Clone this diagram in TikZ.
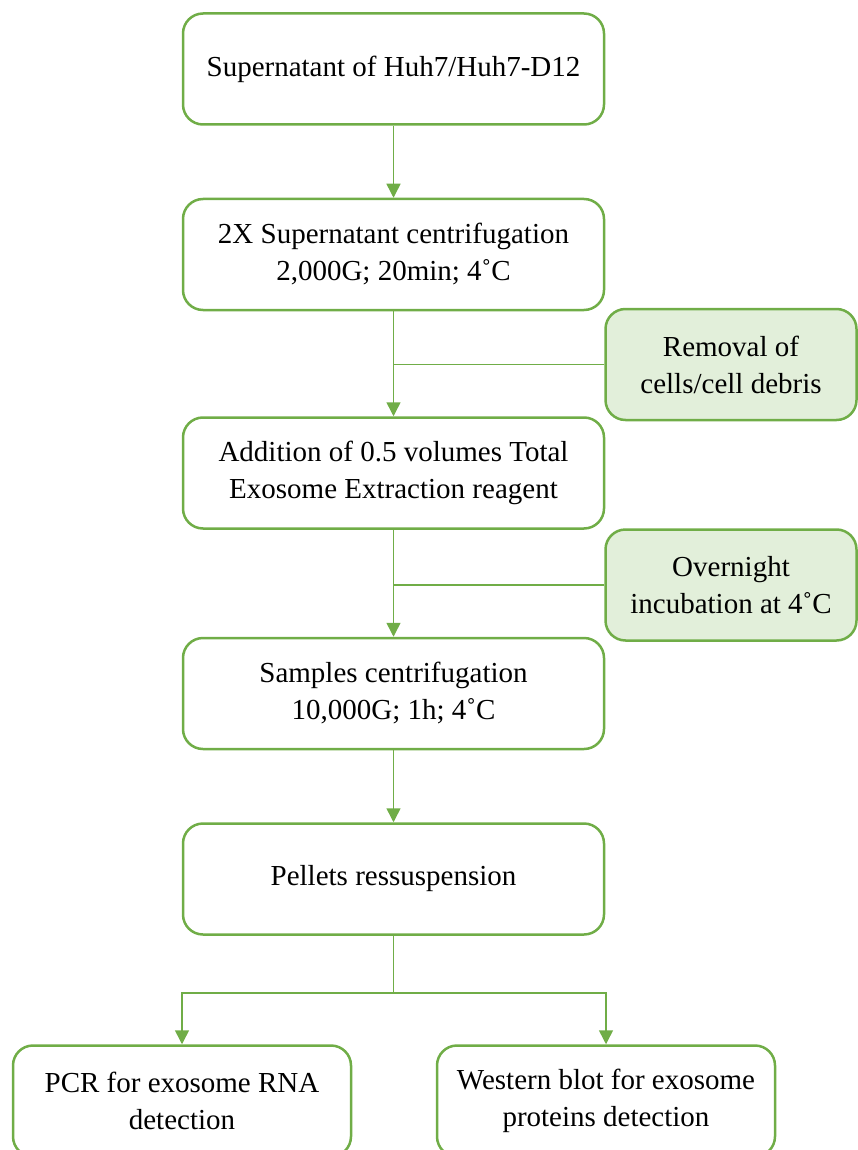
\documentclass[tikz,border=0pt]{standalone}
\usepackage{fontspec}
\setmainfont{Liberation Serif}
\usetikzlibrary{arrows.meta,positioning}
\definecolor{leaf}{HTML}{70AD47}
\definecolor{leafbg}{HTML}{E2EFDA}

\begin{document}
\begin{tikzpicture}[>={Triangle[length=14pt,width=14pt]},node distance=72pt,
    box/.style={draw=leaf,line width=2.5pt,rounded corners=20pt,minimum width=421pt,minimum height=111pt,align=center,font=\fontsize{29}{37}\selectfont},
    side/.style={box,fill=leafbg,minimum width=251pt,minimum height=111pt},
    outbox/.style={box,minimum width=338pt,minimum height=111pt},
    link/.style={draw=leaf,line width=1.5pt}]

    \useasboundingbox (0,0) rectangle (857pt,-1150pt);

    \node[box] (sup) at (393.5pt,-69pt) {Supernatant of Huh7/Huh7-D12};
    \node[box] (cen) [below=72pt of sup] {2X Supernatant centrifugation\\2,000G; 20min; 4˚C};
    \node[box] (add) [below=105pt of cen] {Addition of 0.5 volumes Total\\Exosome Extraction reagent};
    \node[box] (smp) [below=107pt of add] {Samples centrifugation\\10,000G; 1h; 4˚C};
    \node[box] (pel) [below=72pt of smp] {Pellets ressuspension};

    \node[side] (rem) at (731pt,-364.5pt) {Removal of\\cells/cell debris};
    \node[side] (ovn) at (731pt,-585pt) {Overnight\\incubation at 4˚C};

    \node[outbox] (pcr) at (182pt,-1101pt) {PCR for exosome RNA\\detection};
    \node[outbox] (wbl) at (606pt,-1101pt) {Western blot for exosome\\proteins detection};

    \coordinate[below=57pt of pel] (fork);

    \draw[link,->] (sup) -- (cen);
    \draw[link,->] (cen) -- (add);
    \draw[link,->] (add) -- (smp);
    \draw[link,->] (smp) -- (pel);
    \draw[link] (rem.west) -- (rem.west -| cen.south);
    \draw[link] (ovn.west) -- (ovn.west -| add.south);
    \draw[link] (pel) -- (fork);
    \draw[link,->] (fork) -| (pcr);
    \draw[link,->] (fork) -| (wbl);
\end{tikzpicture}
\end{document}
